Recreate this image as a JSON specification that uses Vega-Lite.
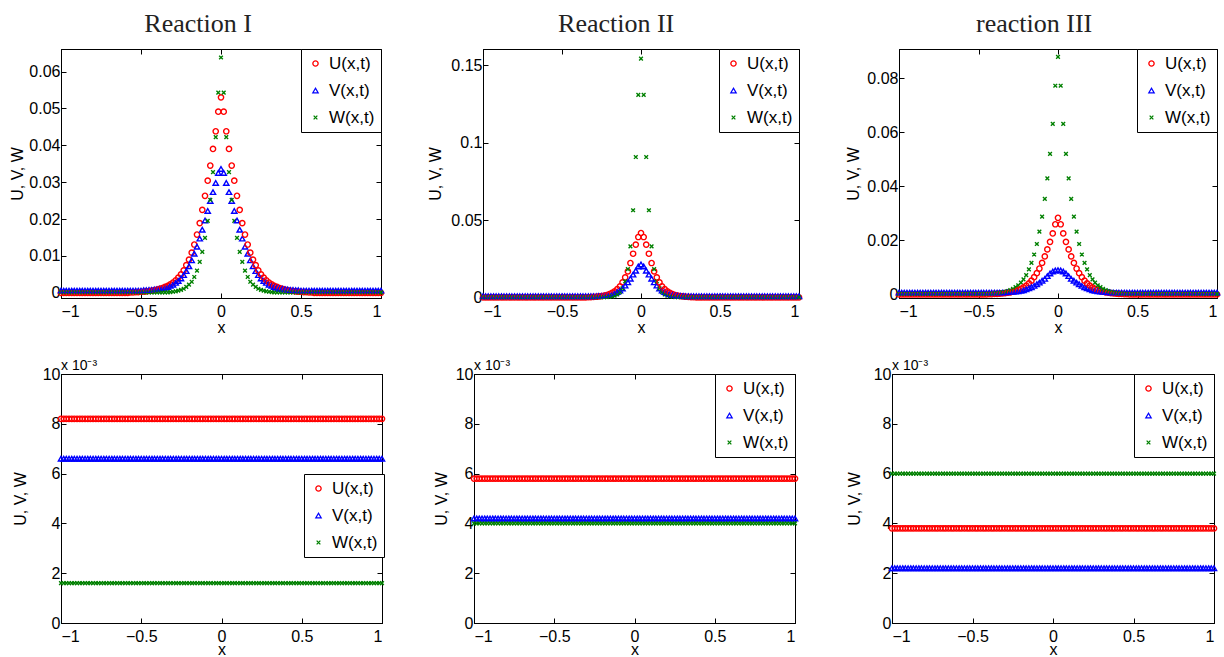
{
"$schema": "https://vega.github.io/schema/vega-lite/v6.json",
"background": "white",
"padding": {"left": 9, "top": 10, "right": 0, "bottom": 0},
"config": {
 "font": "Liberation Sans",
 "view": {"stroke": "black", "strokeWidth": 1},
 "axis": {"labelFont": "Liberation Sans", "labelFontSize": 16, "labelColor": "black", "titleFont": "Liberation Sans", "titleFontSize": 16, "titleFontWeight": "normal", "titleColor": "black", "tickColor": "black", "domainColor": "black", "grid": false, "tickSize": -5, "labelPadding": 6, "titlePadding": 0},
 "axisX": {"labelPadding": 10, "titlePadding": 0},
 "axisY": {"labelPadding": 6},
 "title": {"font": "Liberation Serif", "fontSize": 26, "fontWeight": "normal", "color": "#222222", "offset": 12, "frame": "bounds"},
 "legend": {"strokeColor": "black", "strokeWidth": 1, "fillColor": "white", "padding": 6, "offset": 0, "labelFont": "Liberation Sans", "labelFontSize": 17, "labelColor": "black", "rowPadding": 9, "symbolSize": 28, "symbolStrokeWidth": 1.3, "symbolOffset": 0, "labelOffset": 5},
 "range": {"category": ["#ff0000", "#0000ff", "#008000"], "symbol": ["circle", "triangle-up", "M-0.7,-0.7L0.7,0.7M-0.7,0.7L0.7,-0.7"]}
},
"datasets": {"d": [
{"x":-1,"a":0,"b":0.0006,"c":0.0001,"d":0,"e":0.0008,"f":0.0001,"g":0,"h":0.0007,"i":0.0002,"j":0.0082,"k":0.0066,"l":0.0016,"m":0.0058,"n":0.0042,"o":0.004,"p":0.0038,"q":0.0022,"r":0.006},
{"x":-0.983,"a":0,"b":0.0006,"c":0.0001,"d":0,"e":0.0008,"f":0.0001,"g":0,"h":0.0007,"i":0.0002,"j":0.0082,"k":0.0066,"l":0.0016,"m":0.0058,"n":0.0042,"o":0.004,"p":0.0038,"q":0.0022,"r":0.006},
{"x":-0.967,"a":0,"b":0.0006,"c":0.0001,"d":0,"e":0.0008,"f":0.0001,"g":0,"h":0.0007,"i":0.0002,"j":0.0082,"k":0.0066,"l":0.0016,"m":0.0058,"n":0.0042,"o":0.004,"p":0.0038,"q":0.0022,"r":0.006},
{"x":-0.95,"a":0,"b":0.0006,"c":0.0001,"d":0,"e":0.0008,"f":0.0001,"g":0,"h":0.0007,"i":0.0002,"j":0.0082,"k":0.0066,"l":0.0016,"m":0.0058,"n":0.0042,"o":0.004,"p":0.0038,"q":0.0022,"r":0.006},
{"x":-0.933,"a":0,"b":0.0006,"c":0.0001,"d":0,"e":0.0008,"f":0.0001,"g":0,"h":0.0007,"i":0.0002,"j":0.0082,"k":0.0066,"l":0.0016,"m":0.0058,"n":0.0042,"o":0.004,"p":0.0038,"q":0.0022,"r":0.006},
{"x":-0.917,"a":0,"b":0.0006,"c":0.0001,"d":0,"e":0.0008,"f":0.0001,"g":0,"h":0.0007,"i":0.0002,"j":0.0082,"k":0.0066,"l":0.0016,"m":0.0058,"n":0.0042,"o":0.004,"p":0.0038,"q":0.0022,"r":0.006},
{"x":-0.9,"a":0,"b":0.0006,"c":0.0001,"d":0,"e":0.0008,"f":0.0001,"g":0,"h":0.0007,"i":0.0002,"j":0.0082,"k":0.0066,"l":0.0016,"m":0.0058,"n":0.0042,"o":0.004,"p":0.0038,"q":0.0022,"r":0.006},
{"x":-0.883,"a":0,"b":0.0006,"c":0.0001,"d":0,"e":0.0008,"f":0.0001,"g":0,"h":0.0007,"i":0.0002,"j":0.0082,"k":0.0066,"l":0.0016,"m":0.0058,"n":0.0042,"o":0.004,"p":0.0038,"q":0.0022,"r":0.006},
{"x":-0.867,"a":0,"b":0.0006,"c":0.0001,"d":0,"e":0.0008,"f":0.0001,"g":0,"h":0.0007,"i":0.0002,"j":0.0082,"k":0.0066,"l":0.0016,"m":0.0058,"n":0.0042,"o":0.004,"p":0.0038,"q":0.0022,"r":0.006},
{"x":-0.85,"a":0,"b":0.0006,"c":0.0001,"d":0,"e":0.0008,"f":0.0001,"g":0,"h":0.0007,"i":0.0002,"j":0.0082,"k":0.0066,"l":0.0016,"m":0.0058,"n":0.0042,"o":0.004,"p":0.0038,"q":0.0022,"r":0.006},
{"x":-0.833,"a":0,"b":0.0006,"c":0.0001,"d":0,"e":0.0008,"f":0.0001,"g":0,"h":0.0007,"i":0.0002,"j":0.0082,"k":0.0066,"l":0.0016,"m":0.0058,"n":0.0042,"o":0.004,"p":0.0038,"q":0.0022,"r":0.006},
{"x":-0.817,"a":0,"b":0.0006,"c":0.0001,"d":0,"e":0.0008,"f":0.0001,"g":0,"h":0.0007,"i":0.0002,"j":0.0082,"k":0.0066,"l":0.0016,"m":0.0058,"n":0.0042,"o":0.004,"p":0.0038,"q":0.0022,"r":0.006},
{"x":-0.8,"a":0,"b":0.0006,"c":0.0001,"d":0,"e":0.0008,"f":0.0001,"g":0,"h":0.0007,"i":0.0002,"j":0.0082,"k":0.0066,"l":0.0016,"m":0.0058,"n":0.0042,"o":0.004,"p":0.0038,"q":0.0022,"r":0.006},
{"x":-0.783,"a":0,"b":0.0006,"c":0.0001,"d":0,"e":0.0008,"f":0.0001,"g":0,"h":0.0007,"i":0.0002,"j":0.0082,"k":0.0066,"l":0.0016,"m":0.0058,"n":0.0042,"o":0.004,"p":0.0038,"q":0.0022,"r":0.006},
{"x":-0.767,"a":0,"b":0.0006,"c":0.0001,"d":0,"e":0.0008,"f":0.0001,"g":0,"h":0.0007,"i":0.0002,"j":0.0082,"k":0.0066,"l":0.0016,"m":0.0058,"n":0.0042,"o":0.004,"p":0.0038,"q":0.0022,"r":0.006},
{"x":-0.75,"a":0,"b":0.0006,"c":0.0001,"d":0,"e":0.0008,"f":0.0001,"g":0,"h":0.0007,"i":0.0002,"j":0.0082,"k":0.0066,"l":0.0016,"m":0.0058,"n":0.0042,"o":0.004,"p":0.0038,"q":0.0022,"r":0.006},
{"x":-0.733,"a":0,"b":0.0006,"c":0.0001,"d":0,"e":0.0008,"f":0.0001,"g":0,"h":0.0007,"i":0.0002,"j":0.0082,"k":0.0066,"l":0.0016,"m":0.0058,"n":0.0042,"o":0.004,"p":0.0038,"q":0.0022,"r":0.006},
{"x":-0.717,"a":0,"b":0.0006,"c":0.0001,"d":0,"e":0.0008,"f":0.0001,"g":0,"h":0.0007,"i":0.0002,"j":0.0082,"k":0.0066,"l":0.0016,"m":0.0058,"n":0.0042,"o":0.004,"p":0.0038,"q":0.0022,"r":0.006},
{"x":-0.7,"a":0,"b":0.0006,"c":0.0001,"d":0,"e":0.0008,"f":0.0001,"g":0,"h":0.0007,"i":0.0002,"j":0.0082,"k":0.0066,"l":0.0016,"m":0.0058,"n":0.0042,"o":0.004,"p":0.0038,"q":0.0022,"r":0.006},
{"x":-0.683,"a":0,"b":0.0006,"c":0.0001,"d":0,"e":0.0008,"f":0.0001,"g":0,"h":0.0007,"i":0.0002,"j":0.0082,"k":0.0066,"l":0.0016,"m":0.0058,"n":0.0042,"o":0.004,"p":0.0038,"q":0.0022,"r":0.006},
{"x":-0.667,"a":0,"b":0.0006,"c":0.0001,"d":0,"e":0.0008,"f":0.0001,"g":0,"h":0.0007,"i":0.0002,"j":0.0082,"k":0.0066,"l":0.0016,"m":0.0058,"n":0.0042,"o":0.004,"p":0.0038,"q":0.0022,"r":0.006},
{"x":-0.65,"a":0,"b":0.0006,"c":0.0001,"d":0,"e":0.0008,"f":0.0001,"g":0,"h":0.0007,"i":0.0002,"j":0.0082,"k":0.0066,"l":0.0016,"m":0.0058,"n":0.0042,"o":0.004,"p":0.0038,"q":0.0022,"r":0.006},
{"x":-0.633,"a":0,"b":0.0006,"c":0.0001,"d":0,"e":0.0008,"f":0.0001,"g":0,"h":0.0007,"i":0.0002,"j":0.0082,"k":0.0066,"l":0.0016,"m":0.0058,"n":0.0042,"o":0.004,"p":0.0038,"q":0.0022,"r":0.006},
{"x":-0.617,"a":0,"b":0.0006,"c":0.0001,"d":0,"e":0.0008,"f":0.0001,"g":0,"h":0.0007,"i":0.0002,"j":0.0082,"k":0.0066,"l":0.0016,"m":0.0058,"n":0.0042,"o":0.004,"p":0.0038,"q":0.0022,"r":0.006},
{"x":-0.6,"a":0,"b":0.0006,"c":0.0001,"d":0,"e":0.0008,"f":0.0001,"g":0,"h":0.0007,"i":0.0002,"j":0.0082,"k":0.0066,"l":0.0016,"m":0.0058,"n":0.0042,"o":0.004,"p":0.0038,"q":0.0022,"r":0.006},
{"x":-0.583,"a":0,"b":0.0006,"c":0.0001,"d":0,"e":0.0008,"f":0.0001,"g":0,"h":0.0007,"i":0.0002,"j":0.0082,"k":0.0066,"l":0.0016,"m":0.0058,"n":0.0042,"o":0.004,"p":0.0038,"q":0.0022,"r":0.006},
{"x":-0.567,"a":0.0001,"b":0.0006,"c":0.0001,"d":0,"e":0.0008,"f":0.0001,"g":0,"h":0.0007,"i":0.0002,"j":0.0082,"k":0.0066,"l":0.0016,"m":0.0058,"n":0.0042,"o":0.004,"p":0.0038,"q":0.0022,"r":0.006},
{"x":-0.55,"a":0.0001,"b":0.0006,"c":0.0001,"d":0,"e":0.0008,"f":0.0001,"g":0,"h":0.0007,"i":0.0002,"j":0.0082,"k":0.0066,"l":0.0016,"m":0.0058,"n":0.0042,"o":0.004,"p":0.0038,"q":0.0022,"r":0.006},
{"x":-0.533,"a":0.0002,"b":0.0006,"c":0.0001,"d":0,"e":0.0008,"f":0.0001,"g":0,"h":0.0007,"i":0.0002,"j":0.0082,"k":0.0066,"l":0.0016,"m":0.0058,"n":0.0042,"o":0.004,"p":0.0038,"q":0.0022,"r":0.006},
{"x":-0.517,"a":0.0002,"b":0.0006,"c":0.0001,"d":0,"e":0.0008,"f":0.0001,"g":0,"h":0.0007,"i":0.0002,"j":0.0082,"k":0.0066,"l":0.0016,"m":0.0058,"n":0.0042,"o":0.004,"p":0.0038,"q":0.0022,"r":0.006},
{"x":-0.5,"a":0.0003,"b":0.0006,"c":0.0001,"d":0,"e":0.0008,"f":0.0001,"g":0,"h":0.0007,"i":0.0002,"j":0.0082,"k":0.0066,"l":0.0016,"m":0.0058,"n":0.0042,"o":0.004,"p":0.0038,"q":0.0022,"r":0.006},
{"x":-0.483,"a":0.0003,"b":0.0007,"c":0.0001,"d":0,"e":0.0008,"f":0.0001,"g":0,"h":0.0007,"i":0.0002,"j":0.0082,"k":0.0066,"l":0.0016,"m":0.0058,"n":0.0042,"o":0.004,"p":0.0038,"q":0.0022,"r":0.006},
{"x":-0.467,"a":0.0004,"b":0.0007,"c":0.0001,"d":0,"e":0.0008,"f":0.0001,"g":0,"h":0.0007,"i":0.0002,"j":0.0082,"k":0.0066,"l":0.0016,"m":0.0058,"n":0.0042,"o":0.004,"p":0.0038,"q":0.0022,"r":0.006},
{"x":-0.45,"a":0.0005,"b":0.0008,"c":0.0001,"d":0,"e":0.0008,"f":0.0001,"g":0,"h":0.0007,"i":0.0002,"j":0.0082,"k":0.0066,"l":0.0016,"m":0.0058,"n":0.0042,"o":0.004,"p":0.0038,"q":0.0022,"r":0.006},
{"x":-0.433,"a":0.0006,"b":0.0008,"c":0.0001,"d":0,"e":0.0008,"f":0.0001,"g":0.0001,"h":0.0007,"i":0.0002,"j":0.0082,"k":0.0066,"l":0.0016,"m":0.0058,"n":0.0042,"o":0.004,"p":0.0038,"q":0.0022,"r":0.006},
{"x":-0.417,"a":0.0007,"b":0.0009,"c":0.0001,"d":0,"e":0.0008,"f":0.0001,"g":0.0001,"h":0.0007,"i":0.0003,"j":0.0082,"k":0.0066,"l":0.0016,"m":0.0058,"n":0.0042,"o":0.004,"p":0.0038,"q":0.0022,"r":0.006},
{"x":-0.4,"a":0.0009,"b":0.001,"c":0.0001,"d":0,"e":0.0008,"f":0.0001,"g":0.0002,"h":0.0007,"i":0.0004,"j":0.0082,"k":0.0066,"l":0.0016,"m":0.0058,"n":0.0042,"o":0.004,"p":0.0038,"q":0.0022,"r":0.006},
{"x":-0.383,"a":0.0011,"b":0.0011,"c":0.0001,"d":0,"e":0.0008,"f":0.0001,"g":0.0002,"h":0.0007,"i":0.0005,"j":0.0082,"k":0.0066,"l":0.0016,"m":0.0058,"n":0.0042,"o":0.004,"p":0.0038,"q":0.0022,"r":0.006},
{"x":-0.367,"a":0.0013,"b":0.0012,"c":0.0001,"d":0,"e":0.0008,"f":0.0001,"g":0.0003,"h":0.0007,"i":0.0006,"j":0.0082,"k":0.0066,"l":0.0016,"m":0.0058,"n":0.0042,"o":0.004,"p":0.0038,"q":0.0022,"r":0.006},
{"x":-0.35,"a":0.0016,"b":0.0014,"c":0.0001,"d":0,"e":0.0008,"f":0.0001,"g":0.0004,"h":0.0007,"i":0.0008,"j":0.0082,"k":0.0066,"l":0.0016,"m":0.0058,"n":0.0042,"o":0.004,"p":0.0038,"q":0.0022,"r":0.006},
{"x":-0.333,"a":0.0019,"b":0.0016,"c":0.0001,"d":0.0001,"e":0.0008,"f":0.0001,"g":0.0005,"h":0.0007,"i":0.001,"j":0.0082,"k":0.0066,"l":0.0016,"m":0.0058,"n":0.0042,"o":0.004,"p":0.0038,"q":0.0022,"r":0.006},
{"x":-0.317,"a":0.0023,"b":0.0019,"c":0.0002,"d":0.0002,"e":0.0008,"f":0.0001,"g":0.0007,"h":0.0008,"i":0.0013,"j":0.0082,"k":0.0066,"l":0.0016,"m":0.0058,"n":0.0042,"o":0.004,"p":0.0038,"q":0.0022,"r":0.006},
{"x":-0.3,"a":0.0028,"b":0.0022,"c":0.0003,"d":0.0003,"e":0.0008,"f":0.0001,"g":0.0008,"h":0.0009,"i":0.0016,"j":0.0082,"k":0.0066,"l":0.0016,"m":0.0058,"n":0.0042,"o":0.004,"p":0.0038,"q":0.0022,"r":0.006},
{"x":-0.283,"a":0.0034,"b":0.0027,"c":0.0004,"d":0.0004,"e":0.0008,"f":0.0001,"g":0.0011,"h":0.001,"i":0.0021,"j":0.0082,"k":0.0066,"l":0.0016,"m":0.0058,"n":0.0042,"o":0.004,"p":0.0038,"q":0.0022,"r":0.006},
{"x":-0.267,"a":0.0041,"b":0.0032,"c":0.0006,"d":0.0006,"e":0.0009,"f":0.0001,"g":0.0013,"h":0.0011,"i":0.0027,"j":0.0082,"k":0.0066,"l":0.0016,"m":0.0058,"n":0.0042,"o":0.004,"p":0.0038,"q":0.0022,"r":0.006},
{"x":-0.25,"a":0.005,"b":0.0039,"c":0.0008,"d":0.0008,"e":0.001,"f":0.0001,"g":0.0017,"h":0.0012,"i":0.0034,"j":0.0082,"k":0.0066,"l":0.0016,"m":0.0058,"n":0.0042,"o":0.004,"p":0.0038,"q":0.0022,"r":0.006},
{"x":-0.233,"a":0.0061,"b":0.0048,"c":0.0011,"d":0.0011,"e":0.0011,"f":0.0001,"g":0.0021,"h":0.0014,"i":0.0044,"j":0.0082,"k":0.0066,"l":0.0016,"m":0.0058,"n":0.0042,"o":0.004,"p":0.0038,"q":0.0022,"r":0.006},
{"x":-0.217,"a":0.0075,"b":0.0059,"c":0.0016,"d":0.0015,"e":0.0013,"f":0.0002,"g":0.0026,"h":0.0016,"i":0.0056,"j":0.0082,"k":0.0066,"l":0.0016,"m":0.0058,"n":0.0042,"o":0.004,"p":0.0038,"q":0.0022,"r":0.006},
{"x":-0.2,"a":0.009,"b":0.0072,"c":0.0022,"d":0.0021,"e":0.0016,"f":0.0004,"g":0.0033,"h":0.0019,"i":0.0072,"j":0.0082,"k":0.0066,"l":0.0016,"m":0.0058,"n":0.0042,"o":0.004,"p":0.0038,"q":0.0022,"r":0.006},
{"x":-0.183,"a":0.0109,"b":0.0088,"c":0.003,"d":0.0029,"e":0.002,"f":0.0006,"g":0.0041,"h":0.0023,"i":0.0093,"j":0.0082,"k":0.0066,"l":0.0016,"m":0.0058,"n":0.0042,"o":0.004,"p":0.0038,"q":0.0022,"r":0.006},
{"x":-0.167,"a":0.0131,"b":0.0106,"c":0.0043,"d":0.0039,"e":0.0026,"f":0.0011,"g":0.0051,"h":0.0027,"i":0.0117,"j":0.0082,"k":0.0066,"l":0.0016,"m":0.0058,"n":0.0042,"o":0.004,"p":0.0038,"q":0.0022,"r":0.006},
{"x":-0.15,"a":0.0158,"b":0.0125,"c":0.006,"d":0.0053,"e":0.0034,"f":0.0019,"g":0.0064,"h":0.0032,"i":0.0148,"j":0.0082,"k":0.0066,"l":0.0016,"m":0.0058,"n":0.0042,"o":0.004,"p":0.0038,"q":0.0022,"r":0.006},
{"x":-0.133,"a":0.0189,"b":0.0147,"c":0.0084,"d":0.0071,"e":0.0044,"f":0.0033,"g":0.0079,"h":0.0038,"i":0.0187,"j":0.0082,"k":0.0066,"l":0.0016,"m":0.0058,"n":0.0042,"o":0.004,"p":0.0038,"q":0.0022,"r":0.006},
{"x":-0.117,"a":0.0225,"b":0.0171,"c":0.0111,"d":0.0097,"e":0.0058,"f":0.0058,"g":0.0096,"h":0.0044,"i":0.0233,"j":0.0082,"k":0.0066,"l":0.0016,"m":0.0058,"n":0.0042,"o":0.004,"p":0.0038,"q":0.0022,"r":0.006},
{"x":-0.1,"a":0.0263,"b":0.0196,"c":0.0149,"d":0.0129,"e":0.0076,"f":0.0103,"g":0.0117,"h":0.0051,"i":0.0288,"j":0.0082,"k":0.0066,"l":0.0016,"m":0.0058,"n":0.0042,"o":0.004,"p":0.0038,"q":0.0022,"r":0.006},
{"x":-0.083,"a":0.0304,"b":0.0222,"c":0.0195,"d":0.0168,"e":0.0097,"f":0.0183,"g":0.0141,"h":0.0058,"i":0.0354,"j":0.0082,"k":0.0066,"l":0.0016,"m":0.0058,"n":0.0042,"o":0.004,"p":0.0038,"q":0.0022,"r":0.006},
{"x":-0.067,"a":0.0345,"b":0.0249,"c":0.0252,"d":0.0222,"e":0.0121,"f":0.033,"g":0.0167,"h":0.0068,"i":0.043,"j":0.0082,"k":0.0066,"l":0.0016,"m":0.0058,"n":0.0042,"o":0.004,"p":0.0038,"q":0.0022,"r":0.006},
{"x":-0.05,"a":0.039,"b":0.0273,"c":0.0327,"d":0.0282,"e":0.0147,"f":0.0563,"g":0.0195,"h":0.0078,"i":0.0521,"j":0.0082,"k":0.0066,"l":0.0016,"m":0.0058,"n":0.0042,"o":0.004,"p":0.0038,"q":0.0022,"r":0.006},
{"x":-0.033,"a":0.0438,"b":0.0298,"c":0.0422,"d":0.0341,"e":0.0172,"f":0.0907,"g":0.0226,"h":0.0085,"i":0.0632,"j":0.0082,"k":0.0066,"l":0.0016,"m":0.0058,"n":0.0042,"o":0.004,"p":0.0038,"q":0.0022,"r":0.006},
{"x":-0.017,"a":0.0491,"b":0.0325,"c":0.0543,"d":0.039,"e":0.02,"f":0.1308,"g":0.026,"h":0.0089,"i":0.0773,"j":0.0082,"k":0.0066,"l":0.0016,"m":0.0058,"n":0.0042,"o":0.004,"p":0.0038,"q":0.0022,"r":0.006},
{"x":0,"a":0.053,"b":0.0336,"c":0.0638,"d":0.0416,"e":0.0213,"f":0.1543,"g":0.0284,"h":0.009,"i":0.088,"j":0.0082,"k":0.0066,"l":0.0016,"m":0.0058,"n":0.0042,"o":0.004,"p":0.0038,"q":0.0022,"r":0.006},
{"x":0.017,"a":0.0491,"b":0.0325,"c":0.0543,"d":0.039,"e":0.02,"f":0.1308,"g":0.026,"h":0.0089,"i":0.0773,"j":0.0082,"k":0.0066,"l":0.0016,"m":0.0058,"n":0.0042,"o":0.004,"p":0.0038,"q":0.0022,"r":0.006},
{"x":0.033,"a":0.0438,"b":0.0298,"c":0.0422,"d":0.0341,"e":0.0172,"f":0.0907,"g":0.0226,"h":0.0085,"i":0.0632,"j":0.0082,"k":0.0066,"l":0.0016,"m":0.0058,"n":0.0042,"o":0.004,"p":0.0038,"q":0.0022,"r":0.006},
{"x":0.05,"a":0.039,"b":0.0273,"c":0.0327,"d":0.0282,"e":0.0147,"f":0.0563,"g":0.0195,"h":0.0078,"i":0.0521,"j":0.0082,"k":0.0066,"l":0.0016,"m":0.0058,"n":0.0042,"o":0.004,"p":0.0038,"q":0.0022,"r":0.006},
{"x":0.067,"a":0.0345,"b":0.0249,"c":0.0252,"d":0.0222,"e":0.0121,"f":0.033,"g":0.0167,"h":0.0068,"i":0.043,"j":0.0082,"k":0.0066,"l":0.0016,"m":0.0058,"n":0.0042,"o":0.004,"p":0.0038,"q":0.0022,"r":0.006},
{"x":0.083,"a":0.0304,"b":0.0222,"c":0.0195,"d":0.0168,"e":0.0097,"f":0.0183,"g":0.0141,"h":0.0058,"i":0.0354,"j":0.0082,"k":0.0066,"l":0.0016,"m":0.0058,"n":0.0042,"o":0.004,"p":0.0038,"q":0.0022,"r":0.006},
{"x":0.1,"a":0.0263,"b":0.0196,"c":0.0149,"d":0.0129,"e":0.0076,"f":0.0103,"g":0.0117,"h":0.0051,"i":0.0288,"j":0.0082,"k":0.0066,"l":0.0016,"m":0.0058,"n":0.0042,"o":0.004,"p":0.0038,"q":0.0022,"r":0.006},
{"x":0.117,"a":0.0225,"b":0.0171,"c":0.0111,"d":0.0097,"e":0.0058,"f":0.0058,"g":0.0096,"h":0.0044,"i":0.0233,"j":0.0082,"k":0.0066,"l":0.0016,"m":0.0058,"n":0.0042,"o":0.004,"p":0.0038,"q":0.0022,"r":0.006},
{"x":0.133,"a":0.0189,"b":0.0147,"c":0.0084,"d":0.0071,"e":0.0044,"f":0.0033,"g":0.0079,"h":0.0038,"i":0.0187,"j":0.0082,"k":0.0066,"l":0.0016,"m":0.0058,"n":0.0042,"o":0.004,"p":0.0038,"q":0.0022,"r":0.006},
{"x":0.15,"a":0.0158,"b":0.0125,"c":0.006,"d":0.0053,"e":0.0034,"f":0.0019,"g":0.0064,"h":0.0032,"i":0.0148,"j":0.0082,"k":0.0066,"l":0.0016,"m":0.0058,"n":0.0042,"o":0.004,"p":0.0038,"q":0.0022,"r":0.006},
{"x":0.167,"a":0.0131,"b":0.0106,"c":0.0043,"d":0.0039,"e":0.0026,"f":0.0011,"g":0.0051,"h":0.0027,"i":0.0117,"j":0.0082,"k":0.0066,"l":0.0016,"m":0.0058,"n":0.0042,"o":0.004,"p":0.0038,"q":0.0022,"r":0.006},
{"x":0.183,"a":0.0109,"b":0.0088,"c":0.003,"d":0.0029,"e":0.002,"f":0.0006,"g":0.0041,"h":0.0023,"i":0.0093,"j":0.0082,"k":0.0066,"l":0.0016,"m":0.0058,"n":0.0042,"o":0.004,"p":0.0038,"q":0.0022,"r":0.006},
{"x":0.2,"a":0.009,"b":0.0072,"c":0.0022,"d":0.0021,"e":0.0016,"f":0.0004,"g":0.0033,"h":0.0019,"i":0.0072,"j":0.0082,"k":0.0066,"l":0.0016,"m":0.0058,"n":0.0042,"o":0.004,"p":0.0038,"q":0.0022,"r":0.006},
{"x":0.217,"a":0.0075,"b":0.0059,"c":0.0016,"d":0.0015,"e":0.0013,"f":0.0002,"g":0.0026,"h":0.0016,"i":0.0056,"j":0.0082,"k":0.0066,"l":0.0016,"m":0.0058,"n":0.0042,"o":0.004,"p":0.0038,"q":0.0022,"r":0.006},
{"x":0.233,"a":0.0061,"b":0.0048,"c":0.0011,"d":0.0011,"e":0.0011,"f":0.0001,"g":0.0021,"h":0.0014,"i":0.0044,"j":0.0082,"k":0.0066,"l":0.0016,"m":0.0058,"n":0.0042,"o":0.004,"p":0.0038,"q":0.0022,"r":0.006},
{"x":0.25,"a":0.005,"b":0.0039,"c":0.0008,"d":0.0008,"e":0.001,"f":0.0001,"g":0.0017,"h":0.0012,"i":0.0034,"j":0.0082,"k":0.0066,"l":0.0016,"m":0.0058,"n":0.0042,"o":0.004,"p":0.0038,"q":0.0022,"r":0.006},
{"x":0.267,"a":0.0041,"b":0.0032,"c":0.0006,"d":0.0006,"e":0.0009,"f":0.0001,"g":0.0013,"h":0.0011,"i":0.0027,"j":0.0082,"k":0.0066,"l":0.0016,"m":0.0058,"n":0.0042,"o":0.004,"p":0.0038,"q":0.0022,"r":0.006},
{"x":0.283,"a":0.0034,"b":0.0027,"c":0.0004,"d":0.0004,"e":0.0008,"f":0.0001,"g":0.0011,"h":0.001,"i":0.0021,"j":0.0082,"k":0.0066,"l":0.0016,"m":0.0058,"n":0.0042,"o":0.004,"p":0.0038,"q":0.0022,"r":0.006},
{"x":0.3,"a":0.0028,"b":0.0022,"c":0.0003,"d":0.0003,"e":0.0008,"f":0.0001,"g":0.0008,"h":0.0009,"i":0.0016,"j":0.0082,"k":0.0066,"l":0.0016,"m":0.0058,"n":0.0042,"o":0.004,"p":0.0038,"q":0.0022,"r":0.006},
{"x":0.317,"a":0.0023,"b":0.0019,"c":0.0002,"d":0.0002,"e":0.0008,"f":0.0001,"g":0.0007,"h":0.0008,"i":0.0013,"j":0.0082,"k":0.0066,"l":0.0016,"m":0.0058,"n":0.0042,"o":0.004,"p":0.0038,"q":0.0022,"r":0.006},
{"x":0.333,"a":0.0019,"b":0.0016,"c":0.0001,"d":0.0001,"e":0.0008,"f":0.0001,"g":0.0005,"h":0.0007,"i":0.001,"j":0.0082,"k":0.0066,"l":0.0016,"m":0.0058,"n":0.0042,"o":0.004,"p":0.0038,"q":0.0022,"r":0.006},
{"x":0.35,"a":0.0016,"b":0.0014,"c":0.0001,"d":0,"e":0.0008,"f":0.0001,"g":0.0004,"h":0.0007,"i":0.0008,"j":0.0082,"k":0.0066,"l":0.0016,"m":0.0058,"n":0.0042,"o":0.004,"p":0.0038,"q":0.0022,"r":0.006},
{"x":0.367,"a":0.0013,"b":0.0012,"c":0.0001,"d":0,"e":0.0008,"f":0.0001,"g":0.0003,"h":0.0007,"i":0.0006,"j":0.0082,"k":0.0066,"l":0.0016,"m":0.0058,"n":0.0042,"o":0.004,"p":0.0038,"q":0.0022,"r":0.006},
{"x":0.383,"a":0.0011,"b":0.0011,"c":0.0001,"d":0,"e":0.0008,"f":0.0001,"g":0.0002,"h":0.0007,"i":0.0005,"j":0.0082,"k":0.0066,"l":0.0016,"m":0.0058,"n":0.0042,"o":0.004,"p":0.0038,"q":0.0022,"r":0.006},
{"x":0.4,"a":0.0009,"b":0.001,"c":0.0001,"d":0,"e":0.0008,"f":0.0001,"g":0.0002,"h":0.0007,"i":0.0004,"j":0.0082,"k":0.0066,"l":0.0016,"m":0.0058,"n":0.0042,"o":0.004,"p":0.0038,"q":0.0022,"r":0.006},
{"x":0.417,"a":0.0007,"b":0.0009,"c":0.0001,"d":0,"e":0.0008,"f":0.0001,"g":0.0001,"h":0.0007,"i":0.0003,"j":0.0082,"k":0.0066,"l":0.0016,"m":0.0058,"n":0.0042,"o":0.004,"p":0.0038,"q":0.0022,"r":0.006},
{"x":0.433,"a":0.0006,"b":0.0008,"c":0.0001,"d":0,"e":0.0008,"f":0.0001,"g":0.0001,"h":0.0007,"i":0.0002,"j":0.0082,"k":0.0066,"l":0.0016,"m":0.0058,"n":0.0042,"o":0.004,"p":0.0038,"q":0.0022,"r":0.006},
{"x":0.45,"a":0.0005,"b":0.0008,"c":0.0001,"d":0,"e":0.0008,"f":0.0001,"g":0,"h":0.0007,"i":0.0002,"j":0.0082,"k":0.0066,"l":0.0016,"m":0.0058,"n":0.0042,"o":0.004,"p":0.0038,"q":0.0022,"r":0.006},
{"x":0.467,"a":0.0004,"b":0.0007,"c":0.0001,"d":0,"e":0.0008,"f":0.0001,"g":0,"h":0.0007,"i":0.0002,"j":0.0082,"k":0.0066,"l":0.0016,"m":0.0058,"n":0.0042,"o":0.004,"p":0.0038,"q":0.0022,"r":0.006},
{"x":0.483,"a":0.0003,"b":0.0007,"c":0.0001,"d":0,"e":0.0008,"f":0.0001,"g":0,"h":0.0007,"i":0.0002,"j":0.0082,"k":0.0066,"l":0.0016,"m":0.0058,"n":0.0042,"o":0.004,"p":0.0038,"q":0.0022,"r":0.006},
{"x":0.5,"a":0.0003,"b":0.0006,"c":0.0001,"d":0,"e":0.0008,"f":0.0001,"g":0,"h":0.0007,"i":0.0002,"j":0.0082,"k":0.0066,"l":0.0016,"m":0.0058,"n":0.0042,"o":0.004,"p":0.0038,"q":0.0022,"r":0.006},
{"x":0.517,"a":0.0002,"b":0.0006,"c":0.0001,"d":0,"e":0.0008,"f":0.0001,"g":0,"h":0.0007,"i":0.0002,"j":0.0082,"k":0.0066,"l":0.0016,"m":0.0058,"n":0.0042,"o":0.004,"p":0.0038,"q":0.0022,"r":0.006},
{"x":0.533,"a":0.0002,"b":0.0006,"c":0.0001,"d":0,"e":0.0008,"f":0.0001,"g":0,"h":0.0007,"i":0.0002,"j":0.0082,"k":0.0066,"l":0.0016,"m":0.0058,"n":0.0042,"o":0.004,"p":0.0038,"q":0.0022,"r":0.006},
{"x":0.55,"a":0.0001,"b":0.0006,"c":0.0001,"d":0,"e":0.0008,"f":0.0001,"g":0,"h":0.0007,"i":0.0002,"j":0.0082,"k":0.0066,"l":0.0016,"m":0.0058,"n":0.0042,"o":0.004,"p":0.0038,"q":0.0022,"r":0.006},
{"x":0.567,"a":0.0001,"b":0.0006,"c":0.0001,"d":0,"e":0.0008,"f":0.0001,"g":0,"h":0.0007,"i":0.0002,"j":0.0082,"k":0.0066,"l":0.0016,"m":0.0058,"n":0.0042,"o":0.004,"p":0.0038,"q":0.0022,"r":0.006},
{"x":0.583,"a":0,"b":0.0006,"c":0.0001,"d":0,"e":0.0008,"f":0.0001,"g":0,"h":0.0007,"i":0.0002,"j":0.0082,"k":0.0066,"l":0.0016,"m":0.0058,"n":0.0042,"o":0.004,"p":0.0038,"q":0.0022,"r":0.006},
{"x":0.6,"a":0,"b":0.0006,"c":0.0001,"d":0,"e":0.0008,"f":0.0001,"g":0,"h":0.0007,"i":0.0002,"j":0.0082,"k":0.0066,"l":0.0016,"m":0.0058,"n":0.0042,"o":0.004,"p":0.0038,"q":0.0022,"r":0.006},
{"x":0.617,"a":0,"b":0.0006,"c":0.0001,"d":0,"e":0.0008,"f":0.0001,"g":0,"h":0.0007,"i":0.0002,"j":0.0082,"k":0.0066,"l":0.0016,"m":0.0058,"n":0.0042,"o":0.004,"p":0.0038,"q":0.0022,"r":0.006},
{"x":0.633,"a":0,"b":0.0006,"c":0.0001,"d":0,"e":0.0008,"f":0.0001,"g":0,"h":0.0007,"i":0.0002,"j":0.0082,"k":0.0066,"l":0.0016,"m":0.0058,"n":0.0042,"o":0.004,"p":0.0038,"q":0.0022,"r":0.006},
{"x":0.65,"a":0,"b":0.0006,"c":0.0001,"d":0,"e":0.0008,"f":0.0001,"g":0,"h":0.0007,"i":0.0002,"j":0.0082,"k":0.0066,"l":0.0016,"m":0.0058,"n":0.0042,"o":0.004,"p":0.0038,"q":0.0022,"r":0.006},
{"x":0.667,"a":0,"b":0.0006,"c":0.0001,"d":0,"e":0.0008,"f":0.0001,"g":0,"h":0.0007,"i":0.0002,"j":0.0082,"k":0.0066,"l":0.0016,"m":0.0058,"n":0.0042,"o":0.004,"p":0.0038,"q":0.0022,"r":0.006},
{"x":0.683,"a":0,"b":0.0006,"c":0.0001,"d":0,"e":0.0008,"f":0.0001,"g":0,"h":0.0007,"i":0.0002,"j":0.0082,"k":0.0066,"l":0.0016,"m":0.0058,"n":0.0042,"o":0.004,"p":0.0038,"q":0.0022,"r":0.006},
{"x":0.7,"a":0,"b":0.0006,"c":0.0001,"d":0,"e":0.0008,"f":0.0001,"g":0,"h":0.0007,"i":0.0002,"j":0.0082,"k":0.0066,"l":0.0016,"m":0.0058,"n":0.0042,"o":0.004,"p":0.0038,"q":0.0022,"r":0.006},
{"x":0.717,"a":0,"b":0.0006,"c":0.0001,"d":0,"e":0.0008,"f":0.0001,"g":0,"h":0.0007,"i":0.0002,"j":0.0082,"k":0.0066,"l":0.0016,"m":0.0058,"n":0.0042,"o":0.004,"p":0.0038,"q":0.0022,"r":0.006},
{"x":0.733,"a":0,"b":0.0006,"c":0.0001,"d":0,"e":0.0008,"f":0.0001,"g":0,"h":0.0007,"i":0.0002,"j":0.0082,"k":0.0066,"l":0.0016,"m":0.0058,"n":0.0042,"o":0.004,"p":0.0038,"q":0.0022,"r":0.006},
{"x":0.75,"a":0,"b":0.0006,"c":0.0001,"d":0,"e":0.0008,"f":0.0001,"g":0,"h":0.0007,"i":0.0002,"j":0.0082,"k":0.0066,"l":0.0016,"m":0.0058,"n":0.0042,"o":0.004,"p":0.0038,"q":0.0022,"r":0.006},
{"x":0.767,"a":0,"b":0.0006,"c":0.0001,"d":0,"e":0.0008,"f":0.0001,"g":0,"h":0.0007,"i":0.0002,"j":0.0082,"k":0.0066,"l":0.0016,"m":0.0058,"n":0.0042,"o":0.004,"p":0.0038,"q":0.0022,"r":0.006},
{"x":0.783,"a":0,"b":0.0006,"c":0.0001,"d":0,"e":0.0008,"f":0.0001,"g":0,"h":0.0007,"i":0.0002,"j":0.0082,"k":0.0066,"l":0.0016,"m":0.0058,"n":0.0042,"o":0.004,"p":0.0038,"q":0.0022,"r":0.006},
{"x":0.8,"a":0,"b":0.0006,"c":0.0001,"d":0,"e":0.0008,"f":0.0001,"g":0,"h":0.0007,"i":0.0002,"j":0.0082,"k":0.0066,"l":0.0016,"m":0.0058,"n":0.0042,"o":0.004,"p":0.0038,"q":0.0022,"r":0.006},
{"x":0.817,"a":0,"b":0.0006,"c":0.0001,"d":0,"e":0.0008,"f":0.0001,"g":0,"h":0.0007,"i":0.0002,"j":0.0082,"k":0.0066,"l":0.0016,"m":0.0058,"n":0.0042,"o":0.004,"p":0.0038,"q":0.0022,"r":0.006},
{"x":0.833,"a":0,"b":0.0006,"c":0.0001,"d":0,"e":0.0008,"f":0.0001,"g":0,"h":0.0007,"i":0.0002,"j":0.0082,"k":0.0066,"l":0.0016,"m":0.0058,"n":0.0042,"o":0.004,"p":0.0038,"q":0.0022,"r":0.006},
{"x":0.85,"a":0,"b":0.0006,"c":0.0001,"d":0,"e":0.0008,"f":0.0001,"g":0,"h":0.0007,"i":0.0002,"j":0.0082,"k":0.0066,"l":0.0016,"m":0.0058,"n":0.0042,"o":0.004,"p":0.0038,"q":0.0022,"r":0.006},
{"x":0.867,"a":0,"b":0.0006,"c":0.0001,"d":0,"e":0.0008,"f":0.0001,"g":0,"h":0.0007,"i":0.0002,"j":0.0082,"k":0.0066,"l":0.0016,"m":0.0058,"n":0.0042,"o":0.004,"p":0.0038,"q":0.0022,"r":0.006},
{"x":0.883,"a":0,"b":0.0006,"c":0.0001,"d":0,"e":0.0008,"f":0.0001,"g":0,"h":0.0007,"i":0.0002,"j":0.0082,"k":0.0066,"l":0.0016,"m":0.0058,"n":0.0042,"o":0.004,"p":0.0038,"q":0.0022,"r":0.006},
{"x":0.9,"a":0,"b":0.0006,"c":0.0001,"d":0,"e":0.0008,"f":0.0001,"g":0,"h":0.0007,"i":0.0002,"j":0.0082,"k":0.0066,"l":0.0016,"m":0.0058,"n":0.0042,"o":0.004,"p":0.0038,"q":0.0022,"r":0.006},
{"x":0.917,"a":0,"b":0.0006,"c":0.0001,"d":0,"e":0.0008,"f":0.0001,"g":0,"h":0.0007,"i":0.0002,"j":0.0082,"k":0.0066,"l":0.0016,"m":0.0058,"n":0.0042,"o":0.004,"p":0.0038,"q":0.0022,"r":0.006},
{"x":0.933,"a":0,"b":0.0006,"c":0.0001,"d":0,"e":0.0008,"f":0.0001,"g":0,"h":0.0007,"i":0.0002,"j":0.0082,"k":0.0066,"l":0.0016,"m":0.0058,"n":0.0042,"o":0.004,"p":0.0038,"q":0.0022,"r":0.006},
{"x":0.95,"a":0,"b":0.0006,"c":0.0001,"d":0,"e":0.0008,"f":0.0001,"g":0,"h":0.0007,"i":0.0002,"j":0.0082,"k":0.0066,"l":0.0016,"m":0.0058,"n":0.0042,"o":0.004,"p":0.0038,"q":0.0022,"r":0.006},
{"x":0.967,"a":0,"b":0.0006,"c":0.0001,"d":0,"e":0.0008,"f":0.0001,"g":0,"h":0.0007,"i":0.0002,"j":0.0082,"k":0.0066,"l":0.0016,"m":0.0058,"n":0.0042,"o":0.004,"p":0.0038,"q":0.0022,"r":0.006},
{"x":0.983,"a":0,"b":0.0006,"c":0.0001,"d":0,"e":0.0008,"f":0.0001,"g":0,"h":0.0007,"i":0.0002,"j":0.0082,"k":0.0066,"l":0.0016,"m":0.0058,"n":0.0042,"o":0.004,"p":0.0038,"q":0.0022,"r":0.006},
{"x":1,"a":0,"b":0.0006,"c":0.0001,"d":0,"e":0.0008,"f":0.0001,"g":0,"h":0.0007,"i":0.0002,"j":0.0082,"k":0.0066,"l":0.0016,"m":0.0058,"n":0.0042,"o":0.004,"p":0.0038,"q":0.0022,"r":0.006}
]},
"data": {"name": "d"},
"columns": 1,
"align": "none",
"spacing": 22,
"resolve": {"scale": {"x": "independent", "y": "independent", "color": "independent", "shape": "independent"}},
"concat": [
{"hconcat": [
 {"width": 320, "height": 249, "title": {"text": "Reaction I"},
  "transform": [{"fold": ["a", "b", "c"], "as": ["s", "y"]}],
  "layer": [
   {"mark": {"type": "point", "filled": false, "opacity": 1, "size": 28, "strokeWidth": 1.4},
    "encoding": {
     "x": {"field": "x", "type": "quantitative", "scale": {"domain": [-1, 1], "nice": false, "zero": false}, "axis": {"values": [-1, -0.5, 0, 0.5, 1], "format": "~g"}, "title": "x"},
     "y": {"field": "y", "type": "quantitative", "scale": {"domain": [-0.0014, 0.0661], "nice": false, "zero": false}, "axis": {"values": [0, 0.01, 0.02, 0.03, 0.04, 0.05, 0.06], "format": "~g", "titlePadding": 3}, "title": "U, V, W"},
     "color": {"field": "s", "type": "nominal", "legend": {"title": null, "orient": "top-right", "labelExpr": "indexof('adgjmp', datum.label) >= 0 ? 'U(x,t)' : indexof('behknq', datum.label) >= 0 ? 'V(x,t)' : 'W(x,t)'"}},
     "shape": {"field": "s", "type": "nominal", "legend": {"title": null, "orient": "top-right", "labelExpr": "indexof('adgjmp', datum.label) >= 0 ? 'U(x,t)' : indexof('behknq', datum.label) >= 0 ? 'V(x,t)' : 'W(x,t)'"}}}},
   {"mark": {"type": "point", "opacity": 0},
    "encoding": {
     "x": {"field": "x", "type": "quantitative", "scale": {"domain": [-1, 1], "nice": false, "zero": false}, "axis": {"orient": "top", "values": [-1, -0.5, 0, 0.5, 1], "labels": false}, "title": null},
     "y": {"field": "y", "type": "quantitative", "scale": {"domain": [-0.0014, 0.0661], "nice": false, "zero": false}, "axis": {"orient": "right", "values": [0, 0.01, 0.02, 0.03, 0.04, 0.05, 0.06], "labels": false}, "title": null}}}
  ],
  "resolve": {"axis": {"x": "independent", "y": "independent"}}},
 {"width": 316, "height": 249, "title": {"text": "Reaction II"},
  "transform": [{"fold": ["d", "e", "f"], "as": ["s", "y"]}],
  "layer": [
   {"mark": {"type": "point", "filled": false, "opacity": 1, "size": 28, "strokeWidth": 1.4},
    "encoding": {
     "x": {"field": "x", "type": "quantitative", "scale": {"domain": [-1, 1], "nice": false, "zero": false}, "axis": {"values": [-1, -0.5, 0, 0.5, 1], "format": "~g"}, "title": "x"},
     "y": {"field": "y", "type": "quantitative", "scale": {"domain": [-0.0004, 0.1605], "nice": false, "zero": false}, "axis": {"values": [0, 0.05, 0.1, 0.15], "format": "~g", "titlePadding": 7}, "title": "U, V, W"},
     "color": {"field": "s", "type": "nominal", "legend": {"title": null, "orient": "top-right", "labelExpr": "indexof('adgjmp', datum.label) >= 0 ? 'U(x,t)' : indexof('behknq', datum.label) >= 0 ? 'V(x,t)' : 'W(x,t)'"}},
     "shape": {"field": "s", "type": "nominal", "legend": {"title": null, "orient": "top-right", "labelExpr": "indexof('adgjmp', datum.label) >= 0 ? 'U(x,t)' : indexof('behknq', datum.label) >= 0 ? 'V(x,t)' : 'W(x,t)'"}}}},
   {"mark": {"type": "point", "opacity": 0},
    "encoding": {
     "x": {"field": "x", "type": "quantitative", "scale": {"domain": [-1, 1], "nice": false, "zero": false}, "axis": {"orient": "top", "values": [-1, -0.5, 0, 0.5, 1], "labels": false}, "title": null},
     "y": {"field": "y", "type": "quantitative", "scale": {"domain": [-0.0004, 0.1605], "nice": false, "zero": false}, "axis": {"orient": "right", "values": [0, 0.05, 0.1, 0.15], "labels": false}, "title": null}}}
  ],
  "resolve": {"axis": {"x": "independent", "y": "independent"}}},
 {"width": 318, "height": 249, "title": {"text": "reaction III"},
  "transform": [{"fold": ["g", "h", "i"], "as": ["s", "y"]}],
  "layer": [
   {"mark": {"type": "point", "filled": false, "opacity": 1, "size": 28, "strokeWidth": 1.4},
    "encoding": {
     "x": {"field": "x", "type": "quantitative", "scale": {"domain": [-1, 1], "nice": false, "zero": false}, "axis": {"values": [-1, -0.5, 0, 0.5, 1], "format": "~g"}, "title": "x"},
     "y": {"field": "y", "type": "quantitative", "scale": {"domain": [-0.0013, 0.0909], "nice": false, "zero": false}, "axis": {"values": [0, 0.02, 0.04, 0.06, 0.08], "format": "~g", "titlePadding": 5}, "title": "U, V, W"},
     "color": {"field": "s", "type": "nominal", "legend": {"title": null, "orient": "top-right", "labelExpr": "indexof('adgjmp', datum.label) >= 0 ? 'U(x,t)' : indexof('behknq', datum.label) >= 0 ? 'V(x,t)' : 'W(x,t)'"}},
     "shape": {"field": "s", "type": "nominal", "legend": {"title": null, "orient": "top-right", "labelExpr": "indexof('adgjmp', datum.label) >= 0 ? 'U(x,t)' : indexof('behknq', datum.label) >= 0 ? 'V(x,t)' : 'W(x,t)'"}}}},
   {"mark": {"type": "point", "opacity": 0},
    "encoding": {
     "x": {"field": "x", "type": "quantitative", "scale": {"domain": [-1, 1], "nice": false, "zero": false}, "axis": {"orient": "top", "values": [-1, -0.5, 0, 0.5, 1], "labels": false}, "title": null},
     "y": {"field": "y", "type": "quantitative", "scale": {"domain": [-0.0013, 0.0909], "nice": false, "zero": false}, "axis": {"orient": "right", "values": [0, 0.02, 0.04, 0.06, 0.08], "labels": false}, "title": null}}}
  ],
  "resolve": {"axis": {"x": "independent", "y": "independent"}}}
 ],
 "spacing": 40,
 "resolve": {"scale": {"x": "independent", "y": "independent", "color": "independent", "shape": "independent"}}},
{"hconcat": [
 {"width": 321, "height": 249, "title": {"text": "x 10⁻³", "anchor": "start", "frame": "group", "font": "Liberation Sans", "fontSize": 14, "color": "black", "offset": -7},
  "transform": [{"fold": ["j", "k", "l"], "as": ["s", "y"]}],
  "layer": [
   {"mark": {"type": "point", "filled": false, "opacity": 1, "size": 28, "strokeWidth": 1.4},
    "encoding": {
     "x": {"field": "x", "type": "quantitative", "scale": {"domain": [-1, 1], "nice": false, "zero": false}, "axis": {"values": [-1, -0.5, 0, 0.5, 1], "format": "~g", "titlePadding": -3}, "title": "x"},
     "y": {"field": "y", "type": "quantitative", "scale": {"domain": [0, 0.01], "nice": false, "zero": false}, "axis": {"values": [0, 0.002, 0.004, 0.006, 0.008, 0.01], "labelExpr": "format(datum.value * 1000, '~g')", "titlePadding": 14}, "title": "U, V, W"},
     "color": {"field": "s", "type": "nominal", "legend": {"title": null, "orient": "none", "legendX": 243, "legendY": 100, "labelExpr": "indexof('adgjmp', datum.label) >= 0 ? 'U(x,t)' : indexof('behknq', datum.label) >= 0 ? 'V(x,t)' : 'W(x,t)'"}},
     "shape": {"field": "s", "type": "nominal", "legend": {"title": null, "orient": "none", "legendX": 243, "legendY": 100, "labelExpr": "indexof('adgjmp', datum.label) >= 0 ? 'U(x,t)' : indexof('behknq', datum.label) >= 0 ? 'V(x,t)' : 'W(x,t)'"}}}},
   {"mark": {"type": "point", "opacity": 0},
    "encoding": {
     "x": {"field": "x", "type": "quantitative", "scale": {"domain": [-1, 1], "nice": false, "zero": false}, "axis": {"orient": "top", "values": [-1, -0.5, 0, 0.5, 1], "labels": false}, "title": null},
     "y": {"field": "y", "type": "quantitative", "scale": {"domain": [0, 0.01], "nice": false, "zero": false}, "axis": {"orient": "right", "values": [0, 0.002, 0.004, 0.006, 0.008, 0.01], "labels": false}, "title": null}}}
  ],
  "resolve": {"axis": {"x": "independent", "y": "independent"}}},
 {"width": 321, "height": 249, "title": {"text": "x 10⁻³", "anchor": "start", "frame": "group", "font": "Liberation Sans", "fontSize": 14, "color": "black", "offset": -7},
  "transform": [{"fold": ["m", "n", "o"], "as": ["s", "y"]}],
  "layer": [
   {"mark": {"type": "point", "filled": false, "opacity": 1, "size": 28, "strokeWidth": 1.4},
    "encoding": {
     "x": {"field": "x", "type": "quantitative", "scale": {"domain": [-1, 1], "nice": false, "zero": false}, "axis": {"values": [-1, -0.5, 0, 0.5, 1], "format": "~g", "titlePadding": -3}, "title": "x"},
     "y": {"field": "y", "type": "quantitative", "scale": {"domain": [0, 0.01], "nice": false, "zero": false}, "axis": {"values": [0, 0.002, 0.004, 0.006, 0.008, 0.01], "labelExpr": "format(datum.value * 1000, '~g')", "titlePadding": 6}, "title": "U, V, W"},
     "color": {"field": "s", "type": "nominal", "legend": {"title": null, "orient": "top-right", "labelExpr": "indexof('adgjmp', datum.label) >= 0 ? 'U(x,t)' : indexof('behknq', datum.label) >= 0 ? 'V(x,t)' : 'W(x,t)'"}},
     "shape": {"field": "s", "type": "nominal", "legend": {"title": null, "orient": "top-right", "labelExpr": "indexof('adgjmp', datum.label) >= 0 ? 'U(x,t)' : indexof('behknq', datum.label) >= 0 ? 'V(x,t)' : 'W(x,t)'"}}}},
   {"mark": {"type": "point", "opacity": 0},
    "encoding": {
     "x": {"field": "x", "type": "quantitative", "scale": {"domain": [-1, 1], "nice": false, "zero": false}, "axis": {"orient": "top", "values": [-1, -0.5, 0, 0.5, 1], "labels": false}, "title": null},
     "y": {"field": "y", "type": "quantitative", "scale": {"domain": [0, 0.01], "nice": false, "zero": false}, "axis": {"orient": "right", "values": [0, 0.002, 0.004, 0.006, 0.008, 0.01], "labels": false}, "title": null}}}
  ],
  "resolve": {"axis": {"x": "independent", "y": "independent"}}},
 {"width": 322, "height": 249, "title": {"text": "x 10⁻³", "anchor": "start", "frame": "group", "font": "Liberation Sans", "fontSize": 14, "color": "black", "offset": -7},
  "transform": [{"fold": ["p", "q", "r"], "as": ["s", "y"]}],
  "layer": [
   {"mark": {"type": "point", "filled": false, "opacity": 1, "size": 28, "strokeWidth": 1.4},
    "encoding": {
     "x": {"field": "x", "type": "quantitative", "scale": {"domain": [-1, 1], "nice": false, "zero": false}, "axis": {"values": [-1, -0.5, 0, 0.5, 1], "format": "~g", "titlePadding": -3}, "title": "x"},
     "y": {"field": "y", "type": "quantitative", "scale": {"domain": [0, 0.01], "nice": false, "zero": false}, "axis": {"values": [0, 0.002, 0.004, 0.006, 0.008, 0.01], "labelExpr": "format(datum.value * 1000, '~g')", "titlePadding": 11}, "title": "U, V, W"},
     "color": {"field": "s", "type": "nominal", "legend": {"title": null, "orient": "top-right", "labelExpr": "indexof('adgjmp', datum.label) >= 0 ? 'U(x,t)' : indexof('behknq', datum.label) >= 0 ? 'V(x,t)' : 'W(x,t)'"}},
     "shape": {"field": "s", "type": "nominal", "legend": {"title": null, "orient": "top-right", "labelExpr": "indexof('adgjmp', datum.label) >= 0 ? 'U(x,t)' : indexof('behknq', datum.label) >= 0 ? 'V(x,t)' : 'W(x,t)'"}}}},
   {"mark": {"type": "point", "opacity": 0},
    "encoding": {
     "x": {"field": "x", "type": "quantitative", "scale": {"domain": [-1, 1], "nice": false, "zero": false}, "axis": {"orient": "top", "values": [-1, -0.5, 0, 0.5, 1], "labels": false}, "title": null},
     "y": {"field": "y", "type": "quantitative", "scale": {"domain": [0, 0.01], "nice": false, "zero": false}, "axis": {"orient": "right", "values": [0, 0.002, 0.004, 0.006, 0.008, 0.01], "labels": false}, "title": null}}}
  ],
  "resolve": {"axis": {"x": "independent", "y": "independent"}}}
 ],
 "spacing": 44,
 "resolve": {"scale": {"x": "independent", "y": "independent", "color": "independent", "shape": "independent"}}}
]
}
